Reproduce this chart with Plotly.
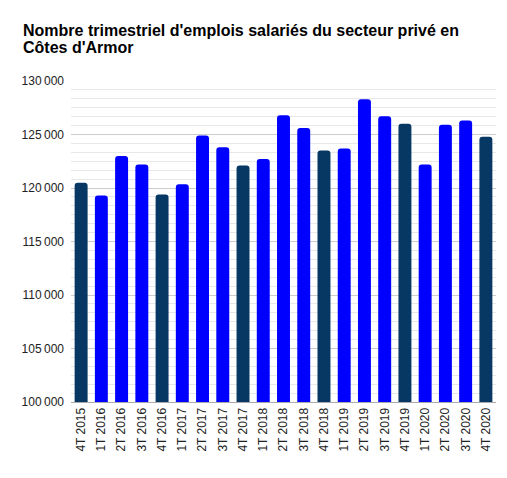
import plotly.graph_objects as go

# quarters and number of private-sector salaried jobs
quarters = [
    "4T 2015", "1T 2016", "2T 2016", "3T 2016", "4T 2016", "1T 2017", "2T 2017",
    "3T 2017", "4T 2017", "1T 2018", "2T 2018", "3T 2018", "4T 2018", "1T 2019",
    "2T 2019", "3T 2019", "4T 2019", "1T 2020", "2T 2020", "3T 2020", "4T 2020",
]
emplois = [
    120500, 119300, 123000, 122200, 119400, 120350, 124900,
    123800, 122100, 122700, 126800, 125600, 123500, 123700,
    128300, 126700, 126000, 122200, 125900, 126300, 124800,
]
title_lines = ["Nombre trimestriel d'emplois salariés du secteur privé en", "Côtes d'Armor"]

DARK = "#073763"
BLUE = "#0000ff"
# fourth quarters are drawn in the dark colour
colors = [DARK if q.startswith("4T") else BLUE for q in quarters]

# the page body adds an 8px margin, so the figure is 8px smaller than the window
W, H = 499, 470
FONT = "Liberation Sans, Arial, sans-serif"
title_font = dict(family=FONT, size=16, color="#000000", weight="bold")

fig = go.Figure(go.Bar(
    x=quarters,
    y=emplois,
    marker=dict(color=colors, line=dict(width=0), cornerradius=3),
    hovertemplate="%{x}: %{y:,.0f}<extra></extra>",
))

fig.update_layout(
    width=W,
    height=H,
    margin=dict(l=63, r=11, t=73, b=76),
    paper_bgcolor="white",
    plot_bgcolor="white",
    separators=",\u202f",
    bargap=0.36,
    showlegend=False,
    font=dict(family=FONT, size=12, color="#222222"),
    title=dict(
        text=title_lines[0],
        x=15 / W, xanchor="left",
        y=1 - 17 / H, yanchor="top",
        font=title_font,
    ),
)
# second title line placed close under the first (tighter than plotly's <br> spacing)
fig.add_annotation(
    text=title_lines[1],
    xref="paper", yref="paper",
    x=(13 - 63) / (W - 63 - 11), xanchor="left",
    y=1 + (73 - 29) / (H - 73 - 76), yanchor="top",
    showarrow=False,
    font=title_font,
)

fig.update_xaxes(
    tickangle=-90,
    showgrid=False,
    showline=True,
    linecolor="#aaaaaa",
    linewidth=1,
    ticks="",
    tickfont=dict(size=12, color="#222222"),
)

fig.update_yaxes(
    range=[100000, 130000],
    dtick=5000,
    tick0=100000,
    tickformat=",d",
    gridcolor="#cccccc",
    gridwidth=1,
    zeroline=False,
    ticks="",
    ticklabelstandoff=6,
    tickfont=dict(size=12, color="#222222"),
    minor=dict(dtick=5000 / 6, tick0=100000, showgrid=True, gridcolor="#e8e8e8", gridwidth=1),
)

fig.write_html("out.html")
